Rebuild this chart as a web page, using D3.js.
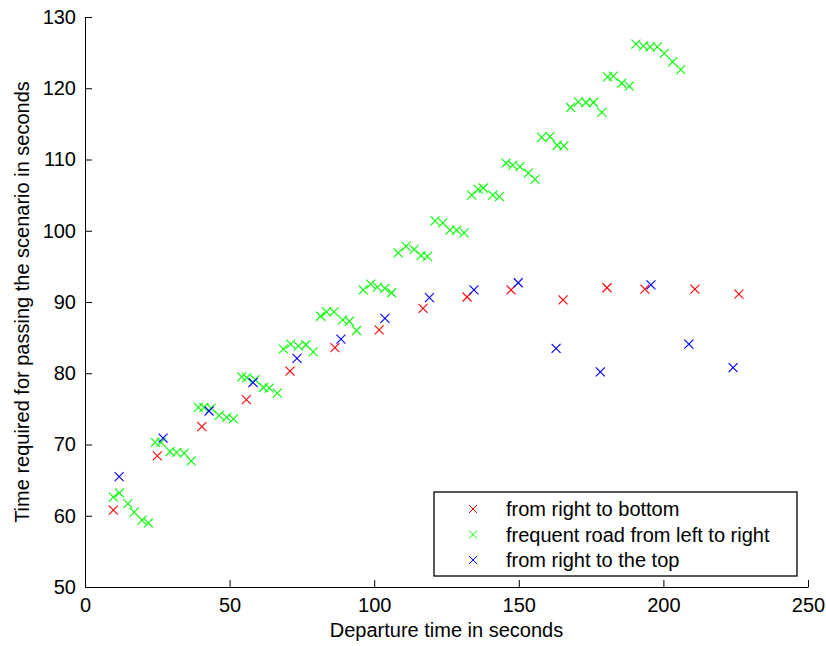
<!DOCTYPE html>
<html>
<head>
<meta charset="utf-8">
<script src="https://cdn.jsdelivr.net/npm/d3@7"></script>
<style>
	body { margin: 0; background: #fff; }
	text { font-family: "Liberation Sans", Arial, Helvetica, sans-serif; }
</style>
</head>
<body>
<div class="container"></div>
<script>
// data
var series_names = ["from right to bottom", "frequent road from left to right", "from right to the top"];
var series_colors = ["#ff0000", "#00ff00", "#0000ff"];

var bottom_x = [9.8, 25.0, 40.4, 55.8, 70.9, 86.4, 101.7, 116.9, 132.1, 147.3, 165.3, 180.5, 193.6, 210.9, 226.1];
var bottom_y = [60.8, 68.4, 72.5, 76.3, 80.3, 83.6, 86.1, 89.1, 90.7, 91.7, 90.3, 92.0, 91.8, 91.8, 91.1];

var road_x = [9.8, 11.9, 14.8, 17.0, 19.7, 21.9,
	24.3, 26.3, 29.4, 31.7, 34.3, 36.7,
	39.2, 41.1, 43.6, 46.4, 49.0, 51.3,
	54.2, 55.9, 58.8, 61.7, 63.7, 66.5,
	68.6, 71.1, 73.8, 76.4, 78.9,
	81.5, 83.5, 86.1, 89.1, 91.4, 93.9,
	96.2, 98.8, 101.1, 103.7, 106.0,
	108.3, 111.0, 113.8, 116.2, 118.4,
	121.0, 123.7, 126.2, 128.5, 131.1,
	133.7, 136.0, 137.7, 141.0, 143.3,
	145.6, 147.9, 150.4, 153.3, 155.6,
	157.9, 160.8, 163.3, 165.6,
	167.9, 170.6, 173.2, 175.8, 178.7,
	180.7, 182.7, 185.6, 188.2,
	190.5, 193.1, 195.4, 197.9, 200.3, 203.2, 206.0];
var road_y = [62.6, 63.2, 61.7, 60.5, 59.4, 59.0,
	70.3, 70.3, 69.0, 68.9, 68.8, 67.7,
	75.2, 75.2, 75.1, 74.1, 73.8, 73.6,
	79.5, 79.4, 79.1, 78.0, 77.9, 77.2,
	83.4, 84.1, 83.8, 84.0, 83.0,
	88.0, 88.6, 88.6, 87.5, 87.3, 86.0,
	91.7, 92.5, 92.1, 91.9, 91.3,
	96.9, 97.8, 97.4, 96.5, 96.4,
	101.4, 101.1, 100.1, 100.1, 99.7,
	105.0, 105.8, 106.0, 105.0, 104.8,
	109.5, 109.2, 109.0, 108.1, 107.2,
	113.1, 113.2, 112.0, 111.9,
	117.3, 118.1, 118.0, 118.0, 116.6,
	121.6, 121.7, 120.7, 120.3,
	126.2, 125.9, 125.8, 125.8, 124.9, 123.7, 122.6];

var top_x = [11.8, 27.0, 42.9, 58.1, 73.3, 88.5, 103.7, 119.1, 134.5, 149.8, 162.9, 178.2, 195.7, 208.8, 224.1];
var top_y = [65.5, 70.9, 74.7, 78.7, 82.1, 84.8, 87.7, 90.6, 91.7, 92.7, 83.5, 80.2, 92.4, 84.1, 80.8];

var x_ticks = [0, 50, 100, 150, 200, 250];
var y_ticks = [50, 60, 70, 80, 90, 100, 110, 120, 130];

var margin = {top: 17, right: 18, bottom: 59, left: 85},
	width = 826 - margin.left - margin.right,
	height = 646 - margin.top - margin.bottom;

var x_scale = d3.scaleLinear()
	.domain([0, 250])
	.range([0, width]);

var y_scale = d3.scaleLinear()
	.domain([50, 130])
	.range([height, 0]);

var svg = d3.select(".container").append('svg')
	.attr('width', 826)
	.attr('height', 646);

var canvas = svg.append('g')
	.attr('transform', 'translate(' + margin.left + ',' + margin.top + ')');

// ejes estilo matlab, ticks hacia adentro
var x_axis = d3.axisBottom(x_scale)
	.tickValues(x_ticks)
	.tickSizeInner(-7)
	.tickSizeOuter(0)
	.tickPadding(11);

var y_axis = d3.axisLeft(y_scale)
	.tickValues(y_ticks)
	.tickSizeInner(-7)
	.tickSizeOuter(0)
	.tickPadding(9);

var gx = canvas.append('g')
	.attr('transform', 'translate(0,' + height + ')')
	.call(x_axis);

var gy = canvas.append('g')
	.call(y_axis);

[gx, gy].forEach(function(g) {
	g.selectAll('text').style('font-size', '20px').attr('fill', '#000');
	g.selectAll('line').attr('stroke', '#000');
	g.select('.domain').attr('stroke', '#000');
});

// draws an "x" marker
var cross = function(sel, r) {
	sel.append('line').attr('x1', -r).attr('y1', -r).attr('x2', r).attr('y2', r);
	sel.append('line').attr('x1', -r).attr('y1', r).attr('x2', r).attr('y2', -r);
};

var all_series = [
	{xs: bottom_x, ys: bottom_y},
	{xs: road_x, ys: road_y},
	{xs: top_x, ys: top_y}
];

all_series.forEach(function(s, index) {
	var pts = s.xs.map(function(v, i) { return {x: v, y: s.ys[i]}; });
	var g = canvas.append('g')
		.attr('stroke', series_colors[index])
		.attr('stroke-width', 1.1);
	g.selectAll('g')
		.data(pts)
		.enter()
		.append('g')
		.attr('transform', function(d) {
			return 'translate(' + x_scale(d.x) + ',' + y_scale(d.y) + ')';
		})
		.each(function() { cross(d3.select(this), 4.5); });
});

// axis labels
svg.append('text')
	.attr('x', margin.left + width / 2)
	.attr('y', 637)
	.attr('text-anchor', 'middle')
	.style('font-size', '20px')
	.text('Departure time in seconds');

svg.append('text')
	.attr('transform', 'translate(29,' + (margin.top + height / 2) + ') rotate(-90)')
	.attr('text-anchor', 'middle')
	.style('font-size', '20px')
	.text('Time required for passing the scenario in seconds');

// legend
var legend = svg.append('g')
	.attr('transform', 'translate(434,492)');

legend.append('rect')
	.attr('width', 363)
	.attr('height', 84)
	.attr('fill', '#fff')
	.attr('stroke', '#000')
	.attr('stroke-width', 1.3);

series_names.forEach(function(name, i) {
	var row = legend.append('g')
		.attr('transform', 'translate(0,' + (17 + i * 25.5) + ')');
	var m = row.append('g')
		.attr('transform', 'translate(39,0)')
		.attr('stroke', series_colors[i])
		.attr('stroke-width', 1);
	cross(m, 4);
	row.append('text')
		.attr('x', 72)
		.attr('dy', '0.35em')
		.style('font-size', '20px')
		.text(name);
});
</script>
</body>
</html>
